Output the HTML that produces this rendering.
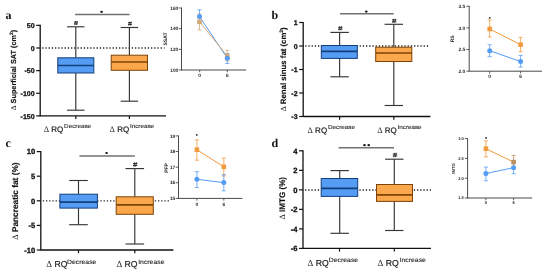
<!DOCTYPE html>
<html><head><meta charset="utf-8"><style>
html,body{margin:0;padding:0;background:#fff;}
body{width:550px;height:274px;overflow:hidden;}
svg{display:block;will-change:transform;}
</style></head><body>
<svg width="550" height="274" viewBox="0 0 550 274" text-rendering="geometricPrecision">
<rect width="550" height="274" fill="#fff"/>
<line x1="40.2" y1="24.775" x2="40.2" y2="116.475" stroke="#111111" stroke-width="1.3" />
<line x1="40.2" y1="115.875" x2="166" y2="115.875" stroke="#111111" stroke-width="1.3" />
<line x1="36.2" y1="25.375" x2="40.2" y2="25.375" stroke="#111111" stroke-width="1.2" />
<text x="34.6" y="28.175" font-family="Liberation Sans" font-size="7" font-weight="bold" fill="#111" text-anchor="end" stroke="#111" stroke-width="0.3" >50</text>
<line x1="36.2" y1="48.0" x2="40.2" y2="48.0" stroke="#111111" stroke-width="1.2" />
<text x="34.6" y="50.8" font-family="Liberation Sans" font-size="7" font-weight="bold" fill="#111" text-anchor="end" stroke="#111" stroke-width="0.3" >0</text>
<line x1="36.2" y1="70.625" x2="40.2" y2="70.625" stroke="#111111" stroke-width="1.2" />
<text x="34.6" y="73.425" font-family="Liberation Sans" font-size="7" font-weight="bold" fill="#111" text-anchor="end" stroke="#111" stroke-width="0.3" >-50</text>
<line x1="36.2" y1="93.25" x2="40.2" y2="93.25" stroke="#111111" stroke-width="1.2" />
<text x="34.6" y="96.05" font-family="Liberation Sans" font-size="7" font-weight="bold" fill="#111" text-anchor="end" stroke="#111" stroke-width="0.3" >-100</text>
<line x1="36.2" y1="115.875" x2="40.2" y2="115.875" stroke="#111111" stroke-width="1.2" />
<text x="34.6" y="118.675" font-family="Liberation Sans" font-size="7" font-weight="bold" fill="#111" text-anchor="end" stroke="#111" stroke-width="0.3" >-150</text>
<line x1="75.8" y1="115.875" x2="75.8" y2="119.075" stroke="#111111" stroke-width="1.2" />
<line x1="129.4" y1="115.875" x2="129.4" y2="119.075" stroke="#111111" stroke-width="1.2" />
<line x1="42.2" y1="48.0" x2="164.5" y2="48.0" stroke="#262626" stroke-width="1.35" stroke-dasharray="1.3 1.9"/>
<line x1="75.8" y1="26.8" x2="75.8" y2="57.8" stroke="#363636" stroke-width="1.15" />
<line x1="75.8" y1="73.0" x2="75.8" y2="110.2" stroke="#363636" stroke-width="1.15" />
<line x1="67.1" y1="26.8" x2="84.5" y2="26.8" stroke="#363636" stroke-width="1.15" />
<line x1="67.1" y1="110.2" x2="84.5" y2="110.2" stroke="#363636" stroke-width="1.15" />
<rect x="57.8" y="57.8" width="36.0" height="15.200000000000003" fill="#559cf4" stroke="#133f7a" stroke-width="1.0"/>
<line x1="57.8" y1="65.5" x2="93.8" y2="65.5" stroke="#133f7a" stroke-width="1.7" />
<line x1="129.4" y1="27.5" x2="129.4" y2="55.2" stroke="#363636" stroke-width="1.15" />
<line x1="129.4" y1="70.3" x2="129.4" y2="101.2" stroke="#363636" stroke-width="1.15" />
<line x1="120.7" y1="27.5" x2="138.1" y2="27.5" stroke="#363636" stroke-width="1.15" />
<line x1="120.7" y1="101.2" x2="138.1" y2="101.2" stroke="#363636" stroke-width="1.15" />
<rect x="111.2" y="55.2" width="36.3" height="15.099999999999994" fill="#fba74b" stroke="#7e4408" stroke-width="1.0"/>
<line x1="111.2" y1="62.0" x2="147.5" y2="62.0" stroke="#7e4408" stroke-width="1.7" />
<path d="M75.60,21.10 L74.70,24.90 M77.30,21.10 L76.40,24.90 M74.10,22.05 L77.90,22.05 M74.10,23.95 L77.90,23.95" stroke="#222" stroke-width="0.9" fill="none"/>
<path d="M129.60,21.70 L128.70,25.50 M131.30,21.70 L130.40,25.50 M128.10,22.65 L131.90,22.65 M128.10,24.55 L131.90,24.55" stroke="#222" stroke-width="0.9" fill="none"/>
<line x1="75.1" y1="14.5" x2="129.6" y2="14.5" stroke="#727272" stroke-width="1.5" />
<ellipse cx="101.6" cy="11.8" rx="1.35" ry="1.1" fill="#151515"/>
<text x="5.5" y="18.7" font-family="Liberation Serif" font-size="12" font-weight="bold" fill="#111" text-anchor="start" >a</text>
<text transform="translate(16.3,70) rotate(-90)" font-family="Liberation Sans" font-size="7.3" font-weight="bold" fill="#111" stroke="#111" stroke-width="0.15" text-anchor="middle"><tspan font-family='Liberation Serif' font-weight='normal' stroke-width='0'>Δ</tspan> Superficial SAT (cm<tspan font-size='5' dy='-3'>2</tspan><tspan dy='3'>)</tspan></text>
<text x="43.7" y="132" font-family="Liberation Sans" font-size="8" fill="#1e1e1e"><tspan font-family="Liberation Serif" font-size="8.40">Δ</tspan><tspan stroke="#1e1e1e" stroke-width="0.22"> RQ</tspan></text>
<text x="64.1" y="128.0" font-family="Liberation Sans" font-size="5.8" fill="#2a2a2a" stroke="#2a2a2a" stroke-width="0.12" textLength="27.0" lengthAdjust="spacingAndGlyphs">Decrease</text>
<text x="109.6" y="132" font-family="Liberation Sans" font-size="8" fill="#1e1e1e"><tspan font-family="Liberation Serif" font-size="8.40">Δ</tspan><tspan stroke="#1e1e1e" stroke-width="0.22"> RQ</tspan></text>
<text x="130.0" y="128.0" font-family="Liberation Sans" font-size="5.8" fill="#2a2a2a" stroke="#2a2a2a" stroke-width="0.12" textLength="24.0" lengthAdjust="spacingAndGlyphs">Increase</text>
<line x1="303.2" y1="21.9" x2="303.2" y2="117.1" stroke="#111111" stroke-width="1.3" />
<line x1="303.2" y1="116.5" x2="430.5" y2="116.5" stroke="#111111" stroke-width="1.3" />
<line x1="299.2" y1="22.5" x2="303.2" y2="22.5" stroke="#111111" stroke-width="1.2" />
<text x="297.59999999999997" y="25.3" font-family="Liberation Sans" font-size="7" font-weight="bold" fill="#111" text-anchor="end" stroke="#111" stroke-width="0.3" >1</text>
<line x1="299.2" y1="46.0" x2="303.2" y2="46.0" stroke="#111111" stroke-width="1.2" />
<text x="297.59999999999997" y="48.8" font-family="Liberation Sans" font-size="7" font-weight="bold" fill="#111" text-anchor="end" stroke="#111" stroke-width="0.3" >0</text>
<line x1="299.2" y1="69.5" x2="303.2" y2="69.5" stroke="#111111" stroke-width="1.2" />
<text x="297.59999999999997" y="72.3" font-family="Liberation Sans" font-size="7" font-weight="bold" fill="#111" text-anchor="end" stroke="#111" stroke-width="0.3" >-1</text>
<line x1="299.2" y1="93.0" x2="303.2" y2="93.0" stroke="#111111" stroke-width="1.2" />
<text x="297.59999999999997" y="95.8" font-family="Liberation Sans" font-size="7" font-weight="bold" fill="#111" text-anchor="end" stroke="#111" stroke-width="0.3" >-2</text>
<line x1="299.2" y1="116.5" x2="303.2" y2="116.5" stroke="#111111" stroke-width="1.2" />
<text x="297.59999999999997" y="119.3" font-family="Liberation Sans" font-size="7" font-weight="bold" fill="#111" text-anchor="end" stroke="#111" stroke-width="0.3" >-3</text>
<line x1="339.6" y1="116.5" x2="339.6" y2="119.7" stroke="#111111" stroke-width="1.2" />
<line x1="393.8" y1="116.5" x2="393.8" y2="119.7" stroke="#111111" stroke-width="1.2" />
<line x1="305.2" y1="46.0" x2="430" y2="46.0" stroke="#262626" stroke-width="1.35" stroke-dasharray="1.3 1.9"/>
<line x1="339.6" y1="32.4" x2="339.6" y2="45.5" stroke="#363636" stroke-width="1.15" />
<line x1="339.6" y1="58.4" x2="339.6" y2="76.8" stroke="#363636" stroke-width="1.15" />
<line x1="330.40000000000003" y1="32.4" x2="348.8" y2="32.4" stroke="#363636" stroke-width="1.15" />
<line x1="330.40000000000003" y1="76.8" x2="348.8" y2="76.8" stroke="#363636" stroke-width="1.15" />
<rect x="321.3" y="45.5" width="36.0" height="12.899999999999999" fill="#559cf4" stroke="#133f7a" stroke-width="1.0"/>
<line x1="321.3" y1="51.4" x2="357.3" y2="51.4" stroke="#133f7a" stroke-width="1.7" />
<line x1="393.8" y1="24.3" x2="393.8" y2="47.2" stroke="#363636" stroke-width="1.15" />
<line x1="393.8" y1="61.5" x2="393.8" y2="105.5" stroke="#363636" stroke-width="1.15" />
<line x1="384.6" y1="24.3" x2="403.0" y2="24.3" stroke="#363636" stroke-width="1.15" />
<line x1="384.6" y1="105.5" x2="403.0" y2="105.5" stroke="#363636" stroke-width="1.15" />
<rect x="375.7" y="47.2" width="36.10000000000002" height="14.299999999999997" fill="#fba74b" stroke="#7e4408" stroke-width="1.0"/>
<line x1="375.7" y1="53.0" x2="411.8" y2="53.0" stroke="#7e4408" stroke-width="1.7" />
<path d="M339.90,26.30 L339.00,30.30 M341.60,26.30 L340.70,30.30 M338.10,27.35 L342.50,27.35 M338.10,29.25 L342.50,29.25" stroke="#222" stroke-width="0.9" fill="none"/>
<path d="M393.80,18.80 L392.90,22.80 M395.50,18.80 L394.60,22.80 M392.00,19.85 L396.40,19.85 M392.00,21.75 L396.40,21.75" stroke="#222" stroke-width="0.9" fill="none"/>
<line x1="340" y1="13.8" x2="393.7" y2="13.8" stroke="#727272" stroke-width="1.5" />
<ellipse cx="366.3" cy="11.6" rx="1.35" ry="1.1" fill="#151515"/>
<text x="271.5" y="18.8" font-family="Liberation Serif" font-size="12" font-weight="bold" fill="#111" text-anchor="start" >b</text>
<text transform="translate(285.6,69.3) rotate(-90)" font-family="Liberation Sans" font-size="7.8" font-weight="bold" fill="#111" stroke="#111" stroke-width="0.15" text-anchor="middle"><tspan font-family='Liberation Serif' font-weight='normal' stroke-width='0'>Δ</tspan> Renal sinus fat (cm<tspan font-size='5' dy='-3'>2</tspan><tspan dy='3'>)</tspan></text>
<text x="307.5" y="132.6" font-family="Liberation Sans" font-size="8" fill="#1e1e1e"><tspan font-family="Liberation Serif" font-size="8.40">Δ</tspan><tspan stroke="#1e1e1e" stroke-width="0.22"> RQ</tspan></text>
<text x="328.0" y="128.6" font-family="Liberation Sans" font-size="5.8" fill="#2a2a2a" stroke="#2a2a2a" stroke-width="0.12" textLength="27.0" lengthAdjust="spacingAndGlyphs">Decrease</text>
<text x="377.2" y="132.6" font-family="Liberation Sans" font-size="8" fill="#1e1e1e"><tspan font-family="Liberation Serif" font-size="8.40">Δ</tspan><tspan stroke="#1e1e1e" stroke-width="0.22"> RQ</tspan></text>
<text x="397.6" y="128.6" font-family="Liberation Sans" font-size="5.8" fill="#2a2a2a" stroke="#2a2a2a" stroke-width="0.12" textLength="24.0" lengthAdjust="spacingAndGlyphs">Increase</text>
<line x1="40.8" y1="151.00000000000003" x2="40.8" y2="250.6" stroke="#111111" stroke-width="1.3" />
<line x1="40.8" y1="250.0" x2="173.4" y2="250.0" stroke="#111111" stroke-width="1.3" />
<line x1="36.8" y1="151.60000000000002" x2="40.8" y2="151.60000000000002" stroke="#111111" stroke-width="1.2" />
<text x="35.199999999999996" y="154.40000000000003" font-family="Liberation Sans" font-size="7.6" font-weight="bold" fill="#111" text-anchor="end" stroke="#111" stroke-width="0.3" >10</text>
<line x1="36.8" y1="176.20000000000002" x2="40.8" y2="176.20000000000002" stroke="#111111" stroke-width="1.2" />
<text x="35.199999999999996" y="179.00000000000003" font-family="Liberation Sans" font-size="7.6" font-weight="bold" fill="#111" text-anchor="end" stroke="#111" stroke-width="0.3" >5</text>
<line x1="36.8" y1="200.8" x2="40.8" y2="200.8" stroke="#111111" stroke-width="1.2" />
<text x="35.199999999999996" y="203.60000000000002" font-family="Liberation Sans" font-size="7.6" font-weight="bold" fill="#111" text-anchor="end" stroke="#111" stroke-width="0.3" >0</text>
<line x1="36.8" y1="225.4" x2="40.8" y2="225.4" stroke="#111111" stroke-width="1.2" />
<text x="35.199999999999996" y="228.20000000000002" font-family="Liberation Sans" font-size="7.6" font-weight="bold" fill="#111" text-anchor="end" stroke="#111" stroke-width="0.3" >-5</text>
<line x1="36.8" y1="250.0" x2="40.8" y2="250.0" stroke="#111111" stroke-width="1.2" />
<text x="35.199999999999996" y="252.8" font-family="Liberation Sans" font-size="7.6" font-weight="bold" fill="#111" text-anchor="end" stroke="#111" stroke-width="0.3" >-10</text>
<line x1="78.5" y1="250.0" x2="78.5" y2="253.2" stroke="#111111" stroke-width="1.2" />
<line x1="134.8" y1="250.0" x2="134.8" y2="253.2" stroke="#111111" stroke-width="1.2" />
<line x1="42.8" y1="200.9" x2="170" y2="200.9" stroke="#262626" stroke-width="1.35" stroke-dasharray="1.3 1.9"/>
<line x1="78.5" y1="180.5" x2="78.5" y2="194.2" stroke="#363636" stroke-width="1.15" />
<line x1="78.5" y1="208.1" x2="78.5" y2="224.7" stroke="#363636" stroke-width="1.15" />
<line x1="69.2" y1="180.5" x2="87.8" y2="180.5" stroke="#363636" stroke-width="1.15" />
<line x1="69.2" y1="224.7" x2="87.8" y2="224.7" stroke="#363636" stroke-width="1.15" />
<rect x="59.9" y="194.2" width="37.50000000000001" height="13.900000000000006" fill="#559cf4" stroke="#133f7a" stroke-width="1.0"/>
<line x1="59.9" y1="202.1" x2="97.4" y2="202.1" stroke="#133f7a" stroke-width="1.7" />
<line x1="134.8" y1="168.6" x2="134.8" y2="196.8" stroke="#363636" stroke-width="1.15" />
<line x1="134.8" y1="214.3" x2="134.8" y2="244.0" stroke="#363636" stroke-width="1.15" />
<line x1="125.50000000000001" y1="168.6" x2="144.10000000000002" y2="168.6" stroke="#363636" stroke-width="1.15" />
<line x1="125.50000000000001" y1="244.0" x2="144.10000000000002" y2="244.0" stroke="#363636" stroke-width="1.15" />
<rect x="116.2" y="196.8" width="37.10000000000001" height="17.5" fill="#fba74b" stroke="#7e4408" stroke-width="1.0"/>
<line x1="116.2" y1="204.8" x2="153.3" y2="204.8" stroke="#7e4408" stroke-width="1.7" />
<path d="M134.80,162.30 L133.90,166.70 M136.50,162.30 L135.60,166.70 M133.00,163.55 L137.40,163.55 M133.00,165.45 L137.40,165.45" stroke="#222" stroke-width="0.9" fill="none"/>
<line x1="79.4" y1="156" x2="134.9" y2="156" stroke="#727272" stroke-width="1.5" />
<ellipse cx="106.6" cy="153.0" rx="1.35" ry="1.1" fill="#151515"/>
<text x="5.5" y="146.8" font-family="Liberation Serif" font-size="12" font-weight="bold" fill="#111" text-anchor="start" >c</text>
<text transform="translate(18.3,201.1) rotate(-90)" font-family="Liberation Sans" font-size="8.3" font-weight="bold" fill="#111" stroke="#111" stroke-width="0.15" text-anchor="middle"><tspan font-family='Liberation Serif' font-weight='normal' stroke-width='0'>Δ</tspan> Pancreatic fat (%)</text>
<text x="46.3" y="267.2" font-family="Liberation Sans" font-size="8.6" fill="#1e1e1e"><tspan font-family="Liberation Serif" font-size="9.03">Δ</tspan><tspan stroke="#1e1e1e" stroke-width="0.22"> RQ</tspan></text>
<text x="67.0" y="263.9" font-family="Liberation Sans" font-size="6.2" fill="#2a2a2a" stroke="#2a2a2a" stroke-width="0.12" textLength="29.4" lengthAdjust="spacingAndGlyphs">Decrease</text>
<text x="116.4" y="267.2" font-family="Liberation Sans" font-size="8.6" fill="#1e1e1e"><tspan font-family="Liberation Serif" font-size="9.03">Δ</tspan><tspan stroke="#1e1e1e" stroke-width="0.22"> RQ</tspan></text>
<text x="138.2" y="263.9" font-family="Liberation Sans" font-size="6.2" fill="#2a2a2a" stroke="#2a2a2a" stroke-width="0.12" textLength="26.3" lengthAdjust="spacingAndGlyphs">Increase</text>
<line x1="303.0" y1="150.21" x2="303.0" y2="249.01" stroke="#111111" stroke-width="1.3" />
<line x1="303.0" y1="248.41" x2="431" y2="248.41" stroke="#111111" stroke-width="1.3" />
<line x1="299.0" y1="150.81" x2="303.0" y2="150.81" stroke="#111111" stroke-width="1.2" />
<text x="297.4" y="153.61" font-family="Liberation Sans" font-size="7.6" font-weight="bold" fill="#111" text-anchor="end" stroke="#111" stroke-width="0.3" >4</text>
<line x1="299.0" y1="170.32999999999998" x2="303.0" y2="170.32999999999998" stroke="#111111" stroke-width="1.2" />
<text x="297.4" y="173.13" font-family="Liberation Sans" font-size="7.6" font-weight="bold" fill="#111" text-anchor="end" stroke="#111" stroke-width="0.3" >2</text>
<line x1="299.0" y1="189.85" x2="303.0" y2="189.85" stroke="#111111" stroke-width="1.2" />
<text x="297.4" y="192.65" font-family="Liberation Sans" font-size="7.6" font-weight="bold" fill="#111" text-anchor="end" stroke="#111" stroke-width="0.3" >0</text>
<line x1="299.0" y1="209.37" x2="303.0" y2="209.37" stroke="#111111" stroke-width="1.2" />
<text x="297.4" y="212.17000000000002" font-family="Liberation Sans" font-size="7.6" font-weight="bold" fill="#111" text-anchor="end" stroke="#111" stroke-width="0.3" >-2</text>
<line x1="299.0" y1="228.89" x2="303.0" y2="228.89" stroke="#111111" stroke-width="1.2" />
<text x="297.4" y="231.69" font-family="Liberation Sans" font-size="7.6" font-weight="bold" fill="#111" text-anchor="end" stroke="#111" stroke-width="0.3" >-4</text>
<line x1="299.0" y1="248.41" x2="303.0" y2="248.41" stroke="#111111" stroke-width="1.2" />
<text x="297.4" y="251.21" font-family="Liberation Sans" font-size="7.6" font-weight="bold" fill="#111" text-anchor="end" stroke="#111" stroke-width="0.3" >-6</text>
<line x1="339.5" y1="248.41" x2="339.5" y2="251.60999999999999" stroke="#111111" stroke-width="1.2" />
<line x1="394.3" y1="248.41" x2="394.3" y2="251.60999999999999" stroke="#111111" stroke-width="1.2" />
<line x1="305.0" y1="190.0" x2="431" y2="190.0" stroke="#262626" stroke-width="1.35" stroke-dasharray="1.3 1.9"/>
<line x1="339.7" y1="170.6" x2="339.7" y2="178.5" stroke="#363636" stroke-width="1.15" />
<line x1="339.7" y1="196.4" x2="339.7" y2="233.3" stroke="#363636" stroke-width="1.15" />
<line x1="330.5" y1="170.6" x2="348.9" y2="170.6" stroke="#363636" stroke-width="1.15" />
<line x1="330.5" y1="233.3" x2="348.9" y2="233.3" stroke="#363636" stroke-width="1.15" />
<rect x="321.2" y="178.5" width="36.5" height="17.900000000000006" fill="#559cf4" stroke="#133f7a" stroke-width="1.0"/>
<line x1="321.2" y1="188.4" x2="357.7" y2="188.4" stroke="#133f7a" stroke-width="1.7" />
<line x1="394.3" y1="159.2" x2="394.3" y2="184.5" stroke="#363636" stroke-width="1.15" />
<line x1="394.3" y1="201.4" x2="394.3" y2="230.5" stroke="#363636" stroke-width="1.15" />
<line x1="385.1" y1="159.2" x2="403.5" y2="159.2" stroke="#363636" stroke-width="1.15" />
<line x1="385.1" y1="230.5" x2="403.5" y2="230.5" stroke="#363636" stroke-width="1.15" />
<rect x="376.5" y="184.5" width="36.0" height="16.900000000000006" fill="#fba74b" stroke="#7e4408" stroke-width="1.0"/>
<line x1="376.5" y1="194.9" x2="412.5" y2="194.9" stroke="#7e4408" stroke-width="1.7" />
<path d="M394.60,152.80 L393.70,157.20 M396.30,152.80 L395.40,157.20 M392.80,154.05 L397.20,154.05 M392.80,155.95 L397.20,155.95" stroke="#222" stroke-width="0.9" fill="none"/>
<line x1="338.6" y1="147.7" x2="394.0" y2="147.7" stroke="#727272" stroke-width="1.5" />
<ellipse cx="364.5" cy="145.2" rx="1.35" ry="1.1" fill="#151515"/>
<ellipse cx="368.7" cy="145.2" rx="1.35" ry="1.1" fill="#151515"/>
<text x="271.5" y="146.8" font-family="Liberation Serif" font-size="12" font-weight="bold" fill="#111" text-anchor="start" >d</text>
<text transform="translate(284.6,198.2) rotate(-90)" font-family="Liberation Sans" font-size="8.1" font-weight="bold" fill="#111" stroke="#111" stroke-width="0.15" text-anchor="middle"><tspan font-family='Liberation Serif' font-weight='normal' stroke-width='0'>Δ</tspan> IMTG (%)</text>
<text x="307.5" y="265.6" font-family="Liberation Sans" font-size="8.6" fill="#1e1e1e"><tspan font-family="Liberation Serif" font-size="9.03">Δ</tspan><tspan stroke="#1e1e1e" stroke-width="0.22"> RQ</tspan></text>
<text x="328.8" y="262.3" font-family="Liberation Sans" font-size="6.2" fill="#2a2a2a" stroke="#2a2a2a" stroke-width="0.12" textLength="29.4" lengthAdjust="spacingAndGlyphs">Decrease</text>
<text x="377.5" y="265.6" font-family="Liberation Sans" font-size="8.6" fill="#1e1e1e"><tspan font-family="Liberation Serif" font-size="9.03">Δ</tspan><tspan stroke="#1e1e1e" stroke-width="0.22"> RQ</tspan></text>
<text x="399.6" y="262.3" font-family="Liberation Sans" font-size="6.2" fill="#2a2a2a" stroke="#2a2a2a" stroke-width="0.12" textLength="26.3" lengthAdjust="spacingAndGlyphs">Increase</text>
<line x1="181.5" y1="7.5999999999999925" x2="181.5" y2="70.5" stroke="#4a4a4a" stroke-width="1.0" />
<line x1="181.5" y1="70.0" x2="246.2" y2="70.0" stroke="#4a4a4a" stroke-width="1.0" />
<line x1="178.7" y1="7.999999999999993" x2="181.5" y2="7.999999999999993" stroke="#4a4a4a" stroke-width="0.9" />
<text x="178.3" y="9.727999999999993" font-family="Liberation Sans" font-size="4.8" font-weight="bold" fill="#262626" text-anchor="end" >160</text>
<line x1="178.7" y1="28.666666666666664" x2="181.5" y2="28.666666666666664" stroke="#4a4a4a" stroke-width="0.9" />
<text x="178.3" y="30.394666666666666" font-family="Liberation Sans" font-size="4.8" font-weight="bold" fill="#262626" text-anchor="end" >140</text>
<line x1="178.7" y1="49.33333333333333" x2="181.5" y2="49.33333333333333" stroke="#4a4a4a" stroke-width="0.9" />
<text x="178.3" y="51.06133333333333" font-family="Liberation Sans" font-size="4.8" font-weight="bold" fill="#262626" text-anchor="end" >120</text>
<line x1="178.7" y1="70.0" x2="181.5" y2="70.0" stroke="#4a4a4a" stroke-width="0.9" />
<text x="178.3" y="71.728" font-family="Liberation Sans" font-size="4.8" font-weight="bold" fill="#262626" text-anchor="end" >100</text>
<line x1="199.7" y1="70.0" x2="199.7" y2="72.2" stroke="#4a4a4a" stroke-width="0.9" />
<text x="199.7" y="77.16" font-family="Liberation Sans" font-size="4.8" font-weight="bold" fill="#262626" text-anchor="middle" >0</text>
<line x1="227.3" y1="70.0" x2="227.3" y2="72.2" stroke="#4a4a4a" stroke-width="0.9" />
<text x="227.3" y="77.16" font-family="Liberation Sans" font-size="4.8" font-weight="bold" fill="#262626" text-anchor="middle" >6</text>
<text transform="translate(167.3,39) rotate(-90)" font-family="Liberation Sans" font-size="5" font-weight="bold" fill="#222" text-anchor="middle">SSAT</text>
<line x1="199.5" y1="16.6" x2="227.3" y2="58.2" stroke="#559cf4" stroke-width="1.0" />
<line x1="199.5" y1="9.8" x2="199.5" y2="23.0" stroke="#559cf4" stroke-width="0.8" />
<line x1="197.4" y1="9.8" x2="201.6" y2="9.8" stroke="#559cf4" stroke-width="0.75" />
<line x1="197.4" y1="23.0" x2="201.6" y2="23.0" stroke="#559cf4" stroke-width="0.75" />
<line x1="227.3" y1="53.6" x2="227.3" y2="63.5" stroke="#559cf4" stroke-width="0.8" />
<line x1="225.20000000000002" y1="53.6" x2="229.4" y2="53.6" stroke="#559cf4" stroke-width="0.75" />
<line x1="225.20000000000002" y1="63.5" x2="229.4" y2="63.5" stroke="#559cf4" stroke-width="0.75" />
<line x1="199.5" y1="21.8" x2="227.3" y2="56.0" stroke="#d3a878" stroke-width="1.0" />
<line x1="199.5" y1="14.0" x2="199.5" y2="29.8" stroke="#d3a878" stroke-width="0.8" />
<line x1="197.4" y1="14.0" x2="201.6" y2="14.0" stroke="#d3a878" stroke-width="0.75" />
<line x1="197.4" y1="29.8" x2="201.6" y2="29.8" stroke="#d3a878" stroke-width="0.75" />
<line x1="227.3" y1="50.3" x2="227.3" y2="61.0" stroke="#d3a878" stroke-width="0.8" />
<line x1="225.20000000000002" y1="50.3" x2="229.4" y2="50.3" stroke="#d3a878" stroke-width="0.75" />
<line x1="225.20000000000002" y1="61.0" x2="229.4" y2="61.0" stroke="#d3a878" stroke-width="0.75" />
<rect x="197.2" y="19.5" width="4.6" height="4.6" fill="#d3a878"/>
<rect x="225.0" y="53.7" width="4.6" height="4.6" fill="#d3a878"/>
<circle cx="199.5" cy="16.6" r="2.5" fill="#559cf4"/>
<circle cx="227.3" cy="58.2" r="2.5" fill="#559cf4"/>
<line x1="469.2" y1="5.850000000000014" x2="469.2" y2="71.7" stroke="#4a4a4a" stroke-width="1.0" />
<line x1="469.2" y1="71.2" x2="542" y2="71.2" stroke="#4a4a4a" stroke-width="1.0" />
<line x1="466.4" y1="6.250000000000014" x2="469.2" y2="6.250000000000014" stroke="#4a4a4a" stroke-width="0.9" />
<text x="465.2" y="7.978000000000014" font-family="Liberation Sans" font-size="4.8" font-weight="bold" fill="#262626" text-anchor="end" >3.5</text>
<line x1="466.4" y1="27.900000000000006" x2="469.2" y2="27.900000000000006" stroke="#4a4a4a" stroke-width="0.9" />
<text x="465.2" y="29.628000000000007" font-family="Liberation Sans" font-size="4.8" font-weight="bold" fill="#262626" text-anchor="end" >3.0</text>
<line x1="466.4" y1="49.550000000000004" x2="469.2" y2="49.550000000000004" stroke="#4a4a4a" stroke-width="0.9" />
<text x="465.2" y="51.278000000000006" font-family="Liberation Sans" font-size="4.8" font-weight="bold" fill="#262626" text-anchor="end" >2.5</text>
<line x1="466.4" y1="71.2" x2="469.2" y2="71.2" stroke="#4a4a4a" stroke-width="0.9" />
<text x="465.2" y="72.928" font-family="Liberation Sans" font-size="4.8" font-weight="bold" fill="#262626" text-anchor="end" >2.0</text>
<line x1="489.7" y1="71.2" x2="489.7" y2="73.4" stroke="#4a4a4a" stroke-width="0.9" />
<text x="489.7" y="78.36" font-family="Liberation Sans" font-size="4.8" font-weight="bold" fill="#262626" text-anchor="middle" >0</text>
<line x1="520.6" y1="71.2" x2="520.6" y2="73.4" stroke="#4a4a4a" stroke-width="0.9" />
<text x="520.6" y="78.36" font-family="Liberation Sans" font-size="4.8" font-weight="bold" fill="#262626" text-anchor="middle" >6</text>
<text transform="translate(454.3,38.9) rotate(-90)" font-family="Liberation Sans" font-size="5" font-weight="bold" fill="#222" text-anchor="middle">RS</text>
<line x1="489.7" y1="29.0" x2="520.6" y2="44.7" stroke="#f39a3e" stroke-width="1.0" />
<line x1="489.7" y1="20.0" x2="489.7" y2="37.0" stroke="#f39a3e" stroke-width="0.8" />
<line x1="487.59999999999997" y1="20.0" x2="491.8" y2="20.0" stroke="#f39a3e" stroke-width="0.75" />
<line x1="487.59999999999997" y1="37.0" x2="491.8" y2="37.0" stroke="#f39a3e" stroke-width="0.75" />
<line x1="520.6" y1="37.4" x2="520.6" y2="51.7" stroke="#f39a3e" stroke-width="0.8" />
<line x1="518.5" y1="37.4" x2="522.7" y2="37.4" stroke="#f39a3e" stroke-width="0.75" />
<line x1="518.5" y1="51.7" x2="522.7" y2="51.7" stroke="#f39a3e" stroke-width="0.75" />
<line x1="489.7" y1="50.7" x2="520.6" y2="61.5" stroke="#559cf4" stroke-width="1.0" />
<line x1="489.7" y1="44.7" x2="489.7" y2="56.7" stroke="#559cf4" stroke-width="0.8" />
<line x1="487.59999999999997" y1="44.7" x2="491.8" y2="44.7" stroke="#559cf4" stroke-width="0.75" />
<line x1="487.59999999999997" y1="56.7" x2="491.8" y2="56.7" stroke="#559cf4" stroke-width="0.75" />
<line x1="520.6" y1="55.5" x2="520.6" y2="67.1" stroke="#559cf4" stroke-width="0.8" />
<line x1="518.5" y1="55.5" x2="522.7" y2="55.5" stroke="#559cf4" stroke-width="0.75" />
<line x1="518.5" y1="67.1" x2="522.7" y2="67.1" stroke="#559cf4" stroke-width="0.75" />
<rect x="487.4" y="26.7" width="4.6" height="4.6" fill="#f39a3e"/>
<rect x="518.3000000000001" y="42.400000000000006" width="4.6" height="4.6" fill="#f39a3e"/>
<circle cx="489.7" cy="50.7" r="2.5" fill="#559cf4"/>
<circle cx="520.6" cy="61.5" r="2.5" fill="#559cf4"/>
<ellipse cx="489.7" cy="17.9" rx="0.95" ry="0.85" fill="#333"/>
<line x1="178.5" y1="135.48" x2="178.5" y2="198.9" stroke="#4a4a4a" stroke-width="1.0" />
<line x1="178.5" y1="198.4" x2="242.4" y2="198.4" stroke="#4a4a4a" stroke-width="1.0" />
<line x1="175.7" y1="135.88" x2="178.5" y2="135.88" stroke="#4a4a4a" stroke-width="0.9" />
<text x="175.3" y="137.608" font-family="Liberation Sans" font-size="4.8" font-weight="bold" fill="#262626" text-anchor="end" >19</text>
<line x1="175.7" y1="151.51" x2="178.5" y2="151.51" stroke="#4a4a4a" stroke-width="0.9" />
<text x="175.3" y="153.238" font-family="Liberation Sans" font-size="4.8" font-weight="bold" fill="#262626" text-anchor="end" >18</text>
<line x1="175.7" y1="167.14000000000001" x2="178.5" y2="167.14000000000001" stroke="#4a4a4a" stroke-width="0.9" />
<text x="175.3" y="168.86800000000002" font-family="Liberation Sans" font-size="4.8" font-weight="bold" fill="#262626" text-anchor="end" >17</text>
<line x1="175.7" y1="182.77" x2="178.5" y2="182.77" stroke="#4a4a4a" stroke-width="0.9" />
<text x="175.3" y="184.49800000000002" font-family="Liberation Sans" font-size="4.8" font-weight="bold" fill="#262626" text-anchor="end" >16</text>
<line x1="175.7" y1="198.4" x2="178.5" y2="198.4" stroke="#4a4a4a" stroke-width="0.9" />
<text x="175.3" y="200.12800000000001" font-family="Liberation Sans" font-size="4.8" font-weight="bold" fill="#262626" text-anchor="end" >15</text>
<line x1="196.9" y1="198.4" x2="196.9" y2="200.6" stroke="#4a4a4a" stroke-width="0.9" />
<text x="196.9" y="205.56" font-family="Liberation Sans" font-size="4.8" font-weight="bold" fill="#262626" text-anchor="middle" >0</text>
<line x1="223.8" y1="198.4" x2="223.8" y2="200.6" stroke="#4a4a4a" stroke-width="0.9" />
<text x="223.8" y="205.56" font-family="Liberation Sans" font-size="4.8" font-weight="bold" fill="#262626" text-anchor="middle" >6</text>
<text transform="translate(168.0,168) rotate(-90)" font-family="Liberation Sans" font-size="5" font-weight="bold" fill="#222" text-anchor="middle">PFP</text>
<line x1="196.9" y1="149.7" x2="223.8" y2="166.8" stroke="#f39a3e" stroke-width="1.0" />
<line x1="196.9" y1="139.9" x2="196.9" y2="160.2" stroke="#f39a3e" stroke-width="0.8" />
<line x1="194.8" y1="139.9" x2="199.0" y2="139.9" stroke="#f39a3e" stroke-width="0.75" />
<line x1="194.8" y1="160.2" x2="199.0" y2="160.2" stroke="#f39a3e" stroke-width="0.75" />
<line x1="223.8" y1="158.0" x2="223.8" y2="176.0" stroke="#f39a3e" stroke-width="0.8" />
<line x1="221.70000000000002" y1="158.0" x2="225.9" y2="158.0" stroke="#f39a3e" stroke-width="0.75" />
<line x1="221.70000000000002" y1="176.0" x2="225.9" y2="176.0" stroke="#f39a3e" stroke-width="0.75" />
<line x1="196.9" y1="179.3" x2="223.8" y2="182.6" stroke="#559cf4" stroke-width="1.0" />
<line x1="196.9" y1="171.7" x2="196.9" y2="187.5" stroke="#559cf4" stroke-width="0.8" />
<line x1="194.8" y1="171.7" x2="199.0" y2="171.7" stroke="#559cf4" stroke-width="0.75" />
<line x1="194.8" y1="187.5" x2="199.0" y2="187.5" stroke="#559cf4" stroke-width="0.75" />
<line x1="223.8" y1="174.7" x2="223.8" y2="190.8" stroke="#559cf4" stroke-width="0.8" />
<line x1="221.70000000000002" y1="174.7" x2="225.9" y2="174.7" stroke="#559cf4" stroke-width="0.75" />
<line x1="221.70000000000002" y1="190.8" x2="225.9" y2="190.8" stroke="#559cf4" stroke-width="0.75" />
<rect x="194.6" y="147.39999999999998" width="4.6" height="4.6" fill="#f39a3e"/>
<rect x="221.5" y="164.5" width="4.6" height="4.6" fill="#f39a3e"/>
<circle cx="196.9" cy="179.3" r="2.5" fill="#559cf4"/>
<circle cx="223.8" cy="182.6" r="2.5" fill="#559cf4"/>
<ellipse cx="196.8" cy="134.9" rx="0.95" ry="0.85" fill="#333"/>
<line x1="467.6" y1="138.2" x2="467.6" y2="198.5" stroke="#4a4a4a" stroke-width="1.0" />
<line x1="467.6" y1="198.0" x2="532.2" y2="198.0" stroke="#4a4a4a" stroke-width="1.0" />
<line x1="464.8" y1="138.6" x2="467.6" y2="138.6" stroke="#4a4a4a" stroke-width="0.9" />
<text x="463.8" y="140.04" font-family="Liberation Sans" font-size="4.0" font-weight="bold" fill="#262626" text-anchor="end" >3.0</text>
<line x1="464.8" y1="158.4" x2="467.6" y2="158.4" stroke="#4a4a4a" stroke-width="0.9" />
<text x="463.8" y="159.84" font-family="Liberation Sans" font-size="4.0" font-weight="bold" fill="#262626" text-anchor="end" >2.5</text>
<line x1="464.8" y1="178.2" x2="467.6" y2="178.2" stroke="#4a4a4a" stroke-width="0.9" />
<text x="463.8" y="179.64" font-family="Liberation Sans" font-size="4.0" font-weight="bold" fill="#262626" text-anchor="end" >2.0</text>
<line x1="464.8" y1="198.0" x2="467.6" y2="198.0" stroke="#4a4a4a" stroke-width="0.9" />
<text x="463.8" y="199.44" font-family="Liberation Sans" font-size="4.0" font-weight="bold" fill="#262626" text-anchor="end" >1.5</text>
<line x1="485.9" y1="198.0" x2="485.9" y2="200.2" stroke="#4a4a4a" stroke-width="0.9" />
<text x="485.9" y="204.4" font-family="Liberation Sans" font-size="4.0" font-weight="bold" fill="#262626" text-anchor="middle" >0</text>
<line x1="513.6" y1="198.0" x2="513.6" y2="200.2" stroke="#4a4a4a" stroke-width="0.9" />
<text x="513.6" y="204.4" font-family="Liberation Sans" font-size="4.0" font-weight="bold" fill="#262626" text-anchor="middle" >6</text>
<text transform="translate(454.5,168.4) rotate(-90)" font-family="Liberation Sans" font-size="4.3" font-weight="bold" fill="#222" text-anchor="middle">IMTG</text>
<line x1="485.9" y1="173.5" x2="513.6" y2="167.7" stroke="#559cf4" stroke-width="1.0" />
<line x1="485.9" y1="167.1" x2="485.9" y2="180.8" stroke="#559cf4" stroke-width="0.8" />
<line x1="483.79999999999995" y1="167.1" x2="488.0" y2="167.1" stroke="#559cf4" stroke-width="0.75" />
<line x1="483.79999999999995" y1="180.8" x2="488.0" y2="180.8" stroke="#559cf4" stroke-width="0.75" />
<line x1="513.6" y1="162.7" x2="513.6" y2="173.8" stroke="#559cf4" stroke-width="0.8" />
<line x1="511.5" y1="162.7" x2="515.7" y2="162.7" stroke="#559cf4" stroke-width="0.75" />
<line x1="511.5" y1="173.8" x2="515.7" y2="173.8" stroke="#559cf4" stroke-width="0.75" />
<line x1="485.9" y1="148.7" x2="513.6" y2="162.1" stroke="#f39a3e" stroke-width="1.0" />
<line x1="485.9" y1="140.8" x2="485.9" y2="156.9" stroke="#f39a3e" stroke-width="0.8" />
<line x1="483.79999999999995" y1="140.8" x2="488.0" y2="140.8" stroke="#f39a3e" stroke-width="0.75" />
<line x1="483.79999999999995" y1="156.9" x2="488.0" y2="156.9" stroke="#f39a3e" stroke-width="0.75" />
<line x1="513.6" y1="155.4" x2="513.6" y2="167.1" stroke="#b98f62" stroke-width="0.8" />
<line x1="511.5" y1="155.4" x2="515.7" y2="155.4" stroke="#b98f62" stroke-width="0.75" />
<line x1="511.5" y1="167.1" x2="515.7" y2="167.1" stroke="#b98f62" stroke-width="0.75" />
<circle cx="485.9" cy="173.5" r="2.5" fill="#559cf4"/>
<circle cx="513.6" cy="167.7" r="2.5" fill="#559cf4"/>
<rect x="483.59999999999997" y="146.39999999999998" width="4.6" height="4.6" fill="#f39a3e"/>
<rect x="511.3" y="159.79999999999998" width="4.6" height="4.6" fill="#b98f62"/>
<ellipse cx="486.0" cy="137.9" rx="0.95" ry="0.85" fill="#333"/>
</svg>
</body></html>
